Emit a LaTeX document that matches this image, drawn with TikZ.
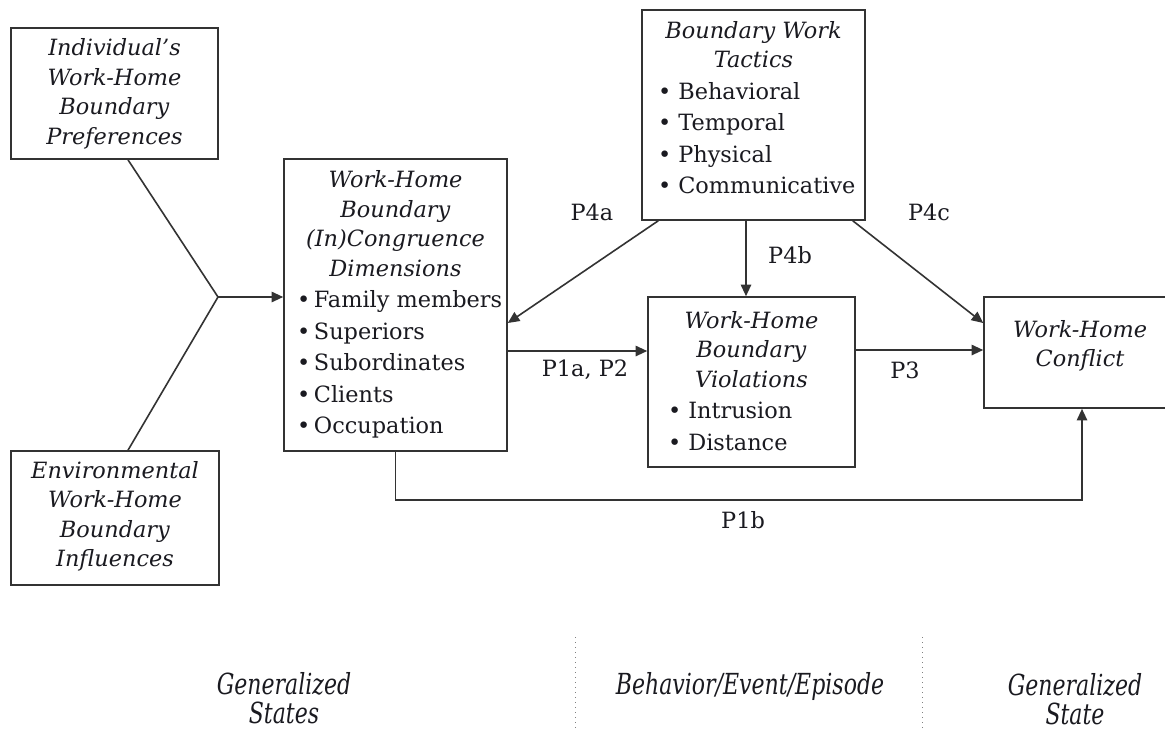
\documentclass[tikz,border=0pt]{standalone}
\usepackage{fontspec}
\setmainfont{DejaVu Serif}
\newfontfamily\condfont[FakeStretch=0.76]{DejaVu Serif}
\usetikzlibrary{arrows.meta}
\definecolor{ink}{HTML}{1A1A20}
\definecolor{linec}{HTML}{333333}
\begin{document}
\begin{tikzpicture}[x=0.5pt,y=-0.5pt,
  box/.style={draw=linec, line width=0.8pt, inner sep=0pt},
  txt/.style={text=ink, align=center, inner sep=0pt, font=\fontsize{11.2}{14.75}\selectfont},
  conn/.style={draw=linec, line width=0.8pt},
  arr/.style={conn, -{Triangle[length=5.8pt,width=5.2pt]}},
  plab/.style={text=ink, inner sep=0pt, font=\fontsize{11.2}{13}\selectfont},
  bottomlab/.style={text=ink, align=center, inner sep=0pt, font=\condfont\fontsize{14.5}{14.5}\itshape},
  sepline/.style={draw=gray, dotted, line width=0.5pt}
]
\useasboundingbox (0,0) rectangle (1165,729);
\fill[white] (0,0) rectangle (1165,729);

% boxes
\node[box, minimum width=103.5pt, minimum height=65.5pt] (A) at (114.5,93.5) {};
\node[box, minimum width=104pt, minimum height=67pt] (B) at (115,518) {};
\node[box, minimum width=111.5pt, minimum height=146pt] (C) at (395.5,305) {};
\node[box, minimum width=111.5pt, minimum height=105pt] (D) at (753.5,115) {};
\node[box, minimum width=103.5pt, minimum height=85pt] (E) at (751.5,382) {};
\node[box, minimum width=96pt, minimum height=55.5pt] (F) at (1080,352.5) {};

% texts
\node[txt] (tA) at (114.5,94) {\textit{Individual's}\\\textit{Work-Home}\\\textit{Boundary}\\\textit{Preferences}};
\node[txt] (tB) at (115,516.5) {\textit{Environmental}\\\textit{Work-Home}\\\textit{Boundary}\\\textit{Influences}};
\node[txt] (tC) at (395.5,304.5) {\textit{Work-Home}\\\textit{Boundary}\\\textit{(In)Congruence}\\\textit{Dimensions}\\[1pt]
  \makebox[98.5pt][l]{\textbullet\,Family members}\\[1pt]
  \makebox[98.5pt][l]{\textbullet\,Superiors}\\[1pt]
  \makebox[98.5pt][l]{\textbullet\,Subordinates}\\[1pt]
  \makebox[98.5pt][l]{\textbullet\,Clients}\\[1pt]
  \makebox[98.5pt][l]{\textbullet\,Occupation}};
\node[txt] (tD) at (753.5,107.5) {\textit{Boundary Work}\\\textit{Tactics}\\[1pt]
  \makebox[95.5pt][l]{\textbullet\ Behavioral}\\[1pt]
  \makebox[95.5pt][l]{\textbullet\ Temporal}\\[1pt]
  \makebox[95.5pt][l]{\textbullet\ Physical}\\[1pt]
  \makebox[95.5pt][l]{\textbullet\ Communicative}};
\node[txt] (tE) at (751.5,381) {\textit{Work-Home}\\\textit{Boundary}\\\textit{Violations}\\[1pt]
  \makebox[83.5pt][l]{\textbullet\ Intrusion}\\[1pt]
  \makebox[83.5pt][l]{\textbullet\ Distance}};
\node[txt] (tF) at (1080,346) {\textit{Work-Home}\\\textit{Conflict}};

% connectors
\coordinate (J) at (218,297);
\draw[conn] ([xshift=6.75pt]A.south) -- (J);
\draw[conn] ([xshift=6.5pt]B.north) -- (J);
\draw[arr] (J) -- (J -| C.west);
\draw[arr] ([xshift=8.5pt]D.south west) -- ([yshift=-9pt]C.east);
\coordinate (vx) at (746,0);
\draw[arr] (D.south -| vx) -- (E.north -| vx);
\draw[arr] ([xshift=-6.5pt]D.south east) -- ([yshift=14.75pt]F.west);
\draw[arr] ([yshift=-23pt]C.east) -- ([yshift=-23pt]C.east -| E.west);
\draw[arr] ([yshift=16pt]E.east) -- ([yshift=16pt]E.east -| F.west);
\coordinate (low) at (0,500);
\draw[arr] (C.south) -- (C.south |- low) -| ([xshift=1pt]F.south);

% path labels
\node[plab] (l4a) at (592,212) {P4a};
\node[plab] (l4b) at (790,255) {P4b};
\node[plab] (l4c) at (929,212) {P4c};
\node[plab] (l1a) at (585,370) {P1a, P2};
\node[plab] (l3) at (905,370) {P3};
\node[plab] (l1b) at (743,520) {P1b};

% separators
\coordinate (s1t) at (575,637);
\coordinate (s1b) at (575,729);
\coordinate (s2t) at (922,637);
\coordinate (s2b) at (922,729);
\draw[sepline] (s1t) -- (s1b);
\draw[sepline] (s2t) -- (s2b);

% bottom labels
\node[bottomlab] (g1) at (284,698) {Generalized\\States};
\node[bottomlab] (g2) at (750,686) {Behavior/Event/Episode};
\node[bottomlab] (g3) at (1075,699) {Generalized\\State};
\end{tikzpicture}
\end{document}
